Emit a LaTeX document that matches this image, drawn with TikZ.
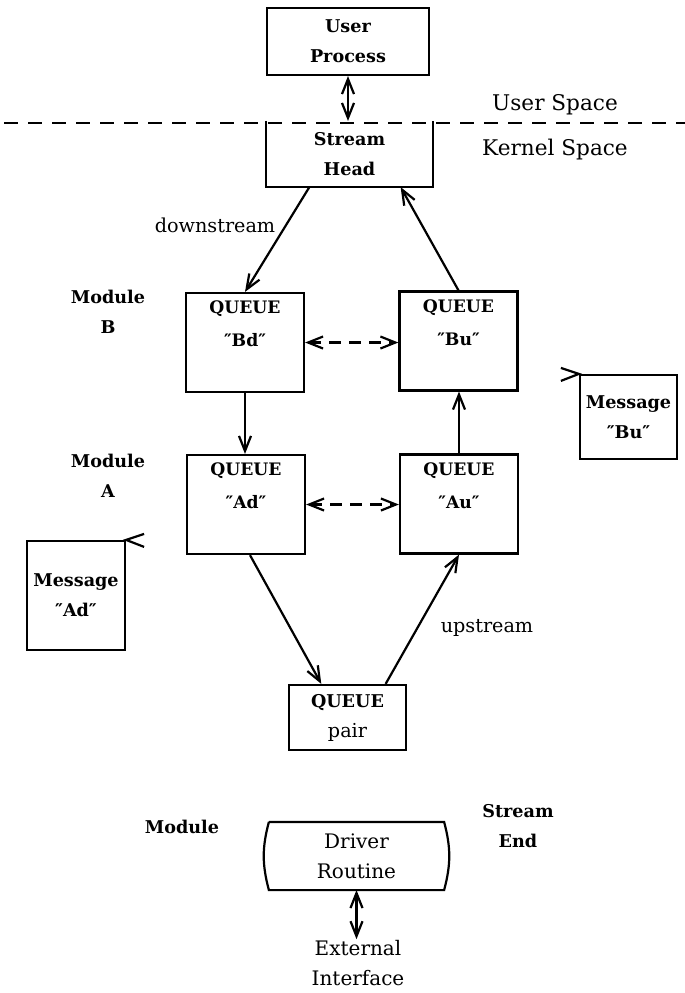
\documentclass[tikz,border=0pt]{standalone}
\usepackage{fontspec}
\setmainfont{DejaVu Serif}
\usepackage{tikz}
\usetikzlibrary{arrows.meta}
\usetikzlibrary{calc}

\tikzset{
  box/.style={draw, rectangle, inner sep=0pt, align=center,
              font=\bfseries\fontsize{8.8}{15}\selectfont},
  qbox/.style={box, minimum width=59pt, minimum height=49.5pt},
  lab/.style={inner sep=0pt, align=center, font=\bfseries\fontsize{8.8}{15}\selectfont},
  qlab/.style={lab, anchor=north, inner sep=4pt, font=\bfseries\fontsize{8.6}{16.5}\selectfont},
  txt/.style={inner sep=0pt, align=center, font=\fontsize{9.6}{15}\selectfont},
  arr/.style={-{Straight Barb[length=7.5pt,width=6pt]}},
  darr/.style={{Straight Barb[length=7.5pt,width=6pt]}-{Straight Barb[length=7.5pt,width=6pt]}},
  dsh/.style={dash pattern=on 6pt off 4pt}
}

\begin{document}
\begin{tikzpicture}[x=0.5pt, y=-0.5pt, line width=1.1pt]
    \useasboundingbox (0,0) rectangle (685,993);

    % 用户空间与内核空间
    \draw[dash pattern=on 7pt off 5pt] (4,123) -- (685,123);
    \node[txt, font=\fontsize{10.8}{15}\selectfont] (uspace) at (555,105) {User Space};
    \node[txt, font=\fontsize{10.8}{15}\selectfont] (kspace) at (555,150) {Kernel Space};

    \node[box, minimum width=81pt, minimum height=33.5pt] (user) at (348,41.5) {User\\Process};
    \node[box, draw=none, minimum width=82.5pt, minimum height=32pt] (head) at (349.5,154) {Stream\\Head};
    \draw (head.north west) -- (head.south west) -- (head.south east) -- (head.north east);
    \draw[darr] (user.south) -- (user.south |- head.north);

    % 四个 QUEUE
    \node[qbox, label={[qlab]north:{QUEUE\\″Bd″}}] (Bd) at (245,342.5) {};
    \node[qbox, label={[qlab]north:{QUEUE\\″Bu″}}] (Bu) at (458.5,341) {};
    \node[qbox, label={[qlab]north:{QUEUE\\″Ad″}}] (Ad) at (246,504.5) {};
    \node[qbox, label={[qlab]north:{QUEUE\\″Au″}}] (Au) at (459,504) {};
    \node[box, minimum width=58.5pt, minimum height=32.5pt] (pair) at (347.5,717.5) {QUEUE\\{\mdseries\fontsize{9.6}{15}\selectfont pair}};

    \node[lab] (modB) at (108,312) {Module\\B};
    \node[lab] (modA) at (108,476) {Module\\A};
    \node[txt] (down) at (215,225) {downstream};
    \node[txt] (up) at (487,628) {upstream};

    \draw[arr] ($(head.south west)!0.26!(head.south east)$) -- (Bd.north);
    \draw[arr] (Bu.north) -- ($(head.south west)!0.806!(head.south east)$);
    \draw[arr] (Bd.south) -- (Bd.south |- Ad.north);
    \draw[arr] (Au.north) -- (Au.north |- Bu.south);
    \draw[darr, dsh] (Bd.east) -- (Bd.east -| Bu.west);
    \draw[darr, dsh] (Ad.east) -- (Ad.east -| Au.west);
    \draw[arr] ([xshift=2pt]Ad.south) -- ($(pair.north west)!0.28!(pair.north east)$);
    \draw[arr] ($(pair.north west)!0.82!(pair.north east)$) -- (Au.south);

    % 消息
    \node[box, minimum width=48.5pt, minimum height=42pt] (msgBu) at (628.5,417) {Message\\″Bu″};
    \draw ([shift={(-18,-6)}]msgBu.north west) -- (msgBu.north west) -- ([shift={(-18,7)}]msgBu.north west);
    \node[box, minimum width=49pt, minimum height=54.5pt] (msgAd) at (76,595.5) {Message\\″Ad″};
    \draw ([shift={(18,-6)}]msgAd.north east) -- (msgAd.north east) -- ([shift={(18,7)}]msgAd.north east);

    % 驱动
    \node[lab] (mod) at (182,827) {Module};
    \node[lab] (send) at (518,826) {Stream\\End};
    \node[txt, font=\fontsize{10}{15}\selectfont, minimum width=86.5pt, minimum height=33pt] (drv) at (356.5,856) {Driver\\Routine};
    \draw (drv.north west) -- (drv.north east) to[bend left=15] (drv.south east)
          -- (drv.south west) to[bend left=15] (drv.north west);
    \node[txt, font=\fontsize{10}{15}\selectfont] (ext) at (358,963) {External\\Interface};
    \draw[darr] (drv.south) -- (drv.south |- ext.north);

\end{tikzpicture}
\end{document}
